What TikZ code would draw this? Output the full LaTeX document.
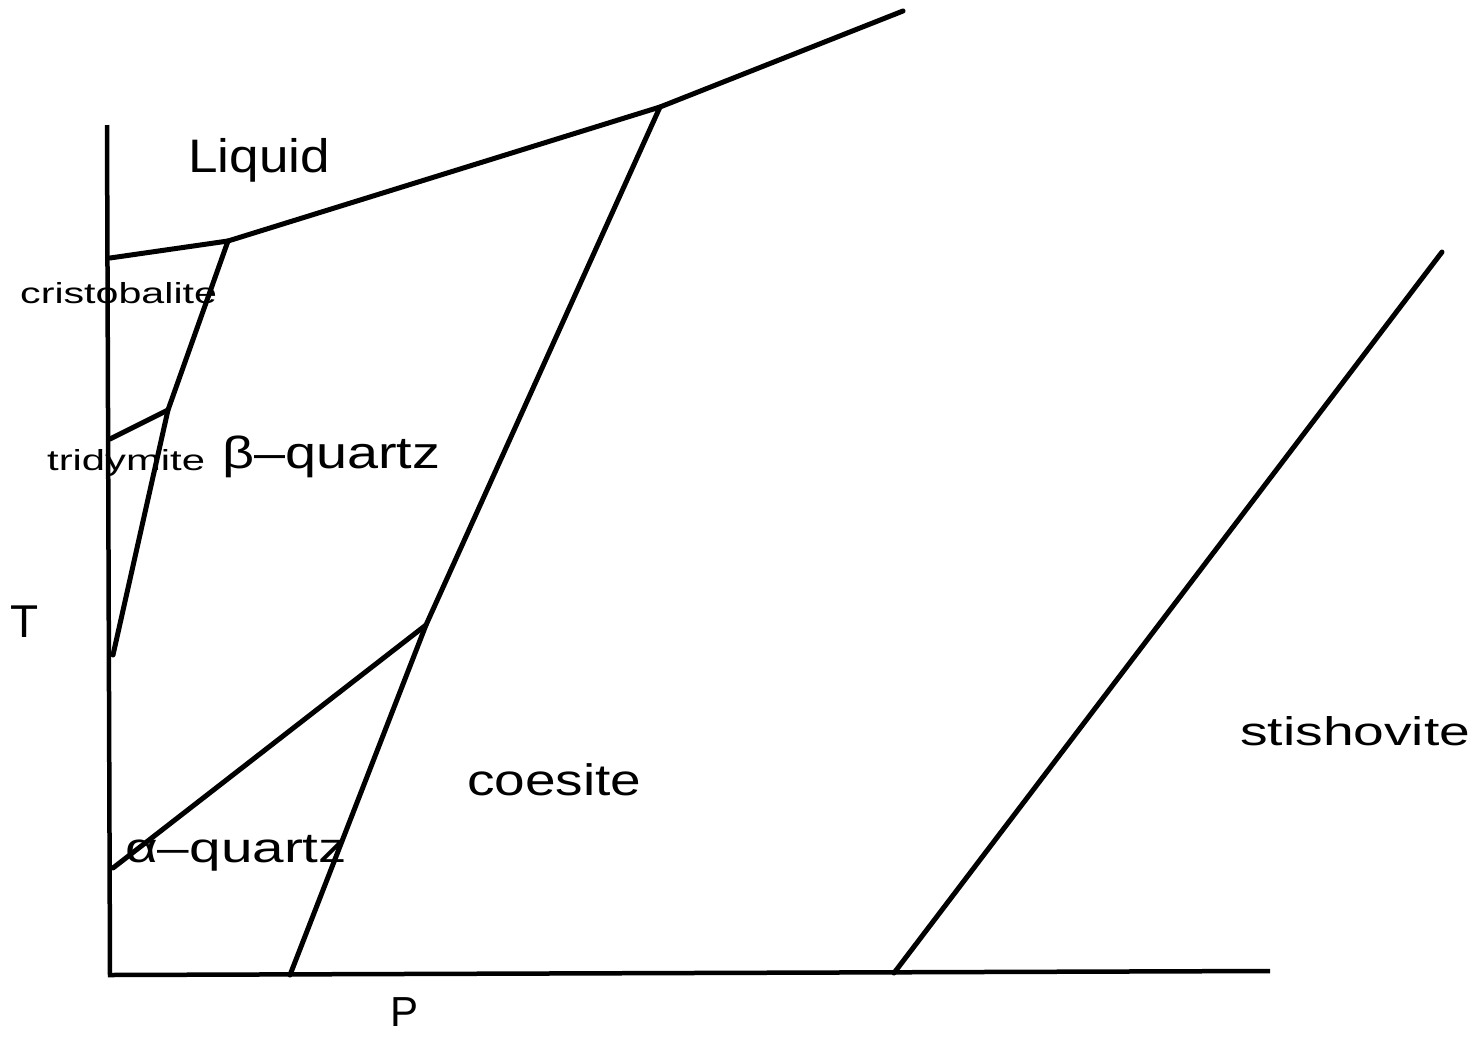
\documentclass[tikz,border=0pt]{standalone}
\usepackage{fontspec}
\usepackage{graphicx}
\setmainfont{Liberation Sans}
\newcommand{\fs}[1]{\fontsize{#1pt}{#1pt}\selectfont}
\begin{document}
\begin{tikzpicture}[x=1pt,y=-1pt,
  phaseline/.style={line width=5pt,line cap=round,line join=round,black},
  axisline/.style={line width=4.5pt,black},
  lbl/.style={inner sep=0pt,anchor=base west}]
\useasboundingbox (0,0) rectangle (1478,1037);
% points
\coordinate (ytop) at (107,125);
\coordinate (origin) at (110,975);
\coordinate (xend) at (1270,971);
\coordinate (lq0) at (110,258);
\coordinate (lq1) at (228,241);
\coordinate (lq2) at (660,107);
\coordinate (lq3) at (903,11);
\coordinate (ct) at (168,410);
\coordinate (ctaxis) at (110,439);
\coordinate (tq) at (113,655);
\coordinate (ab) at (426,625);
\coordinate (aaxis) at (113,868);
\coordinate (coebot) at (290,975);
\coordinate (stbot) at (894,973);
\coordinate (sttop) at (1442,252);
% axes
\draw[axisline] (ytop) -- (origin) -- (xend);
% phase boundaries
\draw[phaseline] (lq0) -- (lq1) -- (lq2) -- (lq3);
\draw[phaseline] (lq1) -- (ct) -- (tq);
\draw[phaseline] (ctaxis) -- (ct);
\draw[phaseline] (lq2) -- (ab) -- (coebot);
\draw[phaseline] (aaxis) -- (ab);
\draw[phaseline] (stbot) -- (sttop);
% labels
\node[lbl] (liquid) at (188,172) {\fs{47}\scalebox{1.13}[1]{Liquid}};
\node[lbl] (cristo) at (20,303) {\fs{29}\scalebox{1.42}[1]{cristobalite}};
\node[lbl] (trid) at (47,470) {\fs{29}\scalebox{1.44}[1]{tridymite}};
\node[lbl] (bq) at (222,468) {\fs{45}\scalebox{1.24}[1]{β–quartz}};
\node[lbl] (aq) at (125,862) {\fs{42}\scalebox{1.35}[1]{α–quartz}};
\node[lbl] (coe) at (467,795) {\fs{44}\scalebox{1.25}[1]{coesite}};
\node[lbl] (sti) at (1240,745) {\fs{40}\scalebox{1.38}[1]{stishovite}};
\node[lbl] (T) at (10,637) {\fs{46}T};
\node[lbl] (P) at (390,1026) {\fs{42}P};
\end{tikzpicture}
\end{document}
